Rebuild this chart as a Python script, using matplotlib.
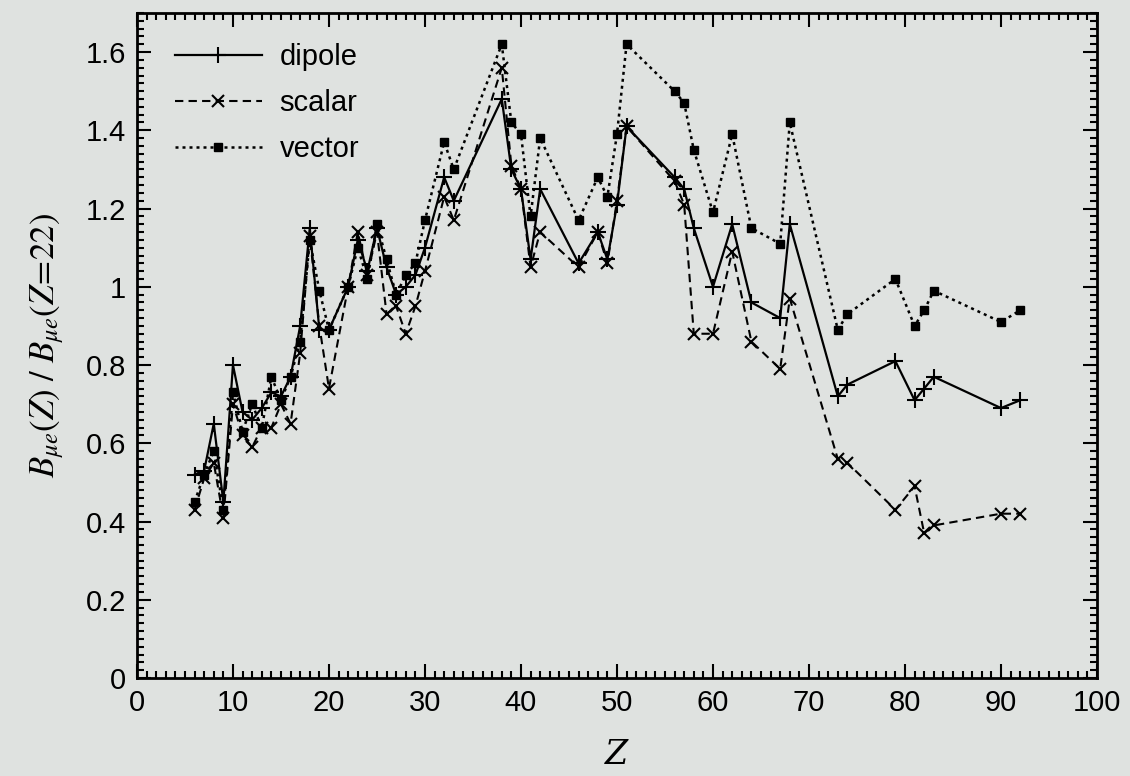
import matplotlib
matplotlib.use("Agg")
import matplotlib.pyplot as plt
from matplotlib.ticker import MultipleLocator

Z = [6, 7, 8, 9, 10, 11, 12, 13, 14, 15, 16, 17, 18, 19, 20, 22, 23, 24, 25, 26,
     27, 28, 29, 30, 32, 33, 38, 39, 40, 41, 42, 46, 48, 49, 50, 51, 56, 57, 58,
     60, 62, 64, 67, 68, 73, 74, 79, 81, 82, 83, 90, 92]

dipole = [0.52, 0.53, 0.65, 0.45, 0.80, 0.68, 0.66, 0.69, 0.73, 0.72, 0.77, 0.90,
          1.15, 0.89, 0.89, 1.00, 1.12, 1.04, 1.15, 1.05, 0.98, 1.00, 1.03, 1.10,
          1.28, 1.22, 1.48, 1.30, 1.25, 1.07, 1.25, 1.06, 1.14, 1.07, 1.21, 1.41,
          1.28, 1.25, 1.15, 1.00, 1.16, 0.96, 0.92, 1.16, 0.72, 0.75, 0.81, 0.71,
          0.74, 0.77, 0.69, 0.71]

scalar = [0.43, 0.51, 0.55, 0.41, 0.70, 0.62, 0.59, 0.64, 0.64, 0.70, 0.65, 0.83,
          1.13, 0.90, 0.74, 1.00, 1.14, 1.03, 1.14, 0.93, 0.95, 0.88, 0.95, 1.04,
          1.23, 1.17, 1.56, 1.31, 1.25, 1.05, 1.14, 1.05, 1.14, 1.06, 1.22, 1.41,
          1.27, 1.21, 0.88, 0.88, 1.09, 0.86, 0.79, 0.97, 0.56, 0.55, 0.43, 0.49,
          0.37, 0.39, 0.42, 0.42]

vector = [0.45, 0.52, 0.58, 0.43, 0.73, 0.63, 0.70, 0.64, 0.77, 0.71, 0.77, 0.86,
          1.12, 0.99, 0.89, 1.00, 1.10, 1.02, 1.16, 1.07, 0.98, 1.03, 1.06, 1.17,
          1.37, 1.30, 1.62, 1.42, 1.39, 1.18, 1.38, 1.17, 1.28, 1.23, 1.39, 1.62,
          1.50, 1.47, 1.35, 1.19, 1.39, 1.15, 1.11, 1.42, 0.89, 0.93, 1.02, 0.90,
          0.94, 0.99, 0.91, 0.94]

bg = "#dfe2e0"
plt.rcParams['font.family'] = ['Liberation Sans', 'DejaVu Sans']
plt.rcParams['mathtext.fontset'] = 'stix'

fig = plt.figure(figsize=(11.3, 7.76), dpi=100, facecolor=bg)
ax = fig.add_axes([0.1212, 0.1263, 0.8496, 0.857])
ax.set_facecolor(bg)

ax.plot(Z, dipole, color="black", lw=1.6, ls="-", marker="+", ms=11, mew=1.5,
        label="dipole")
ax.plot(Z, scalar, color="black", lw=1.5, ls=(0, (4, 2.5)), marker="x", ms=8,
        mew=1.5, label="scalar")
ax.plot(Z, vector, color="black", lw=1.8, ls=(0, (1.2, 1.6)), marker="s", ms=5.5,
        mew=1.0, label="vector")

ax.set_xlim(0, 100)
ax.set_ylim(0, 1.7)
ax.xaxis.set_major_locator(MultipleLocator(10))
ax.xaxis.set_minor_locator(MultipleLocator(1))
ax.yaxis.set_minor_locator(MultipleLocator(0.02))
ax.set_yticks([0, 0.2, 0.4, 0.6, 0.8, 1.0, 1.2, 1.4, 1.6])
ax.set_yticklabels(["0", "0.2", "0.4", "0.6", "0.8", "1", "1.2", "1.4", "1.6"])
ax.tick_params(which="both", direction="in", top=True, right=True, width=1.5,
               labelsize=21, pad=8)
ax.tick_params(which="major", length=10)
ax.tick_params(which="minor", length=5)
for s in ax.spines.values():
    s.set_linewidth(2)

ax.set_xlabel("Z", fontsize=24, family="DejaVu Serif", style="italic", labelpad=16)
ax.set_ylabel(r"$B_{\mu e}(Z)\ /\ B_{\mu e}(Z\!=\!22)$", fontsize=25, labelpad=14)

leg = ax.legend(loc="upper left", frameon=False, fontsize=21, handlelength=3.0,
                numpoints=1, labelspacing=0.62, borderaxespad=0.4, handletextpad=0.6,
                bbox_to_anchor=(0.015, 0.99))

fig.savefig("out.png", dpi=100, facecolor=bg)
